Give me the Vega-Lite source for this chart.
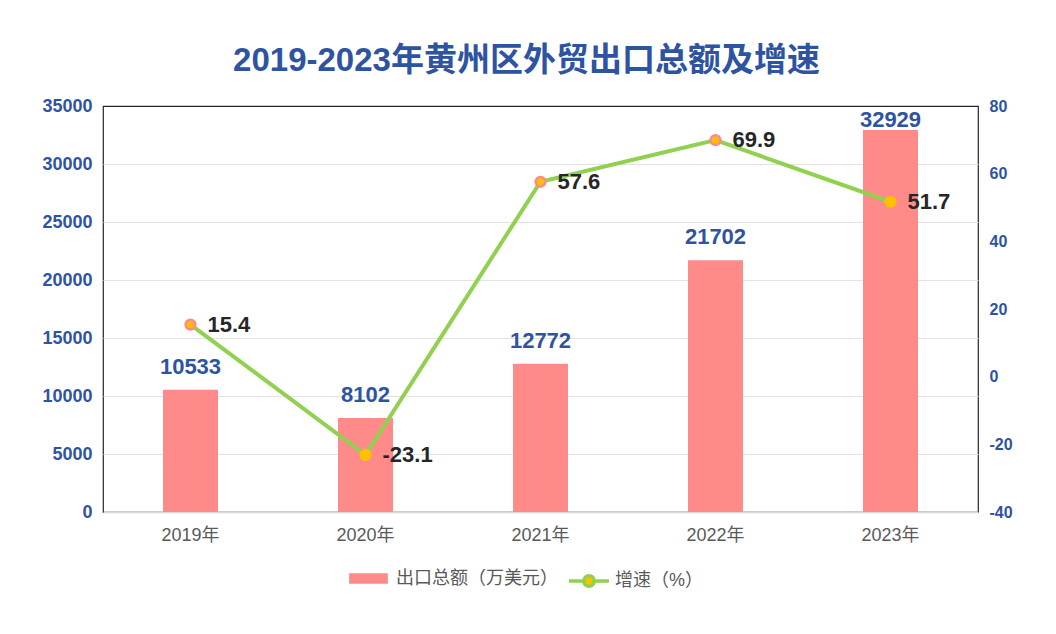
{
  "$schema": "https://vega.github.io/schema/vega-lite/v6.json",
  "autosize": "none",
  "width": 875,
  "height": 406,
  "padding": {"left": 103, "top": 106, "right": 78, "bottom": 122},
  "background": "white",
  "title": {
    "text": "2019-2023年黄州区外贸出口总额及增速",
    "fontSize": 33,
    "fontWeight": "bold",
    "color": "#2E54A1",
    "offset": 19,
    "dx": -14,
    "anchor": "middle"
  },
  "data": {
    "values": [
      {"year": "2019年", "amount": 10533, "growth": 15.4},
      {"year": "2020年", "amount": 8102, "growth": -23.1},
      {"year": "2021年", "amount": 12772, "growth": 57.6},
      {"year": "2022年", "amount": 21702, "growth": 69.9},
      {"year": "2023年", "amount": 32929, "growth": 51.7}
    ]
  },
  "encoding": {
    "x": {
      "field": "year",
      "type": "nominal",
      "sort": null,
      "title": null,
      "axis": {
        "labelAngle": 0,
        "labelColor": "#595959",
        "labelFontSize": 18,
        "labelPadding": 14,
        "ticks": false,
        "domainColor": "#d9d9d9",
        "domainWidth": 1.5
      }
    }
  },
  "layer": [
    {
      "layer": [
        {
          "mark": {"type": "bar", "size": 55},
          "encoding": {
            "y": {
              "field": "amount",
              "type": "quantitative",
              "title": null,
              "scale": {"domain": [0, 35000]},
              "axis": {
                "values": [0, 5000, 10000, 15000, 20000, 25000, 30000, 35000],
                "labelColor": "#2E54A1",
                "labelFontSize": 18,
                "labelFontWeight": "bold",
                "labelPadding": 11,
                "ticks": false,
                "domain": false,
                "grid": true,
                "gridColor": "#e3e3e3",
                "gridOpacity": {"condition": {"test": "datum.value == 35000 || datum.value == 0", "value": 0}, "value": 1},
                "format": "d"
              }
            },
            "fill": {
              "datum": "出口总额（万美元）",
              "type": "nominal",
              "scale": {"range": ["#FF8A8A"]},
              "legend": {
                "title": null,
                "orient": "none",
                "legendX": 246,
                "legendY": 453,
                "labelOffset": 8,
                "labelLimit": 400,
                "symbolType": "M-1,-0.27H1V0.27H-1Z",
                "symbolSize": 1500,
                "symbolStrokeWidth": 0
              }
            }
          }
        },
        {
          "transform": [{"filter": "datum.year != '2023年'"}],
          "mark": {"type": "text", "baseline": "bottom", "dy": -11, "fontSize": 22, "fontWeight": "bold", "color": "#2E54A1"},
          "encoding": {
            "y": {"field": "amount", "type": "quantitative"},
            "text": {"field": "amount", "type": "quantitative", "format": "d"}
          }
        },
        {
          "transform": [{"filter": "datum.year == '2023年'"}],
          "mark": {"type": "text", "baseline": "bottom", "dy": 2, "fontSize": 22, "fontWeight": "bold", "color": "#2E54A1"},
          "encoding": {
            "y": {"field": "amount", "type": "quantitative"},
            "text": {"field": "amount", "type": "quantitative", "format": "d"}
          }
        }
      ]
    },
    {
      "layer": [
        {
          "mark": {"type": "line", "strokeWidth": 4},
          "encoding": {
            "y": {
              "field": "growth",
              "type": "quantitative",
              "title": null,
              "scale": {"domain": [-40, 80]},
              "axis": {
                "orient": "right",
                "values": [-40, -20, 0, 20, 40, 60, 80],
                "labelExpr": "datum.value + ''",
                "labelColor": "#2E54A1",
                "labelFontSize": 16,
                "labelFontWeight": "bold",
                "labelPadding": 11,
                "ticks": false,
                "domain": false,
                "grid": false
              }
            },
            "stroke": {
              "datum": "增速（%）",
              "type": "nominal",
              "scale": {"range": ["#92D050"]},
              "legend": {
                "title": null,
                "orient": "none",
                "legendX": 464,
                "legendY": 453,
                "labelOffset": 4,
                "labelLimit": 300,
                "symbolType": "M-1,0L-0.26,0M0.26,0L1,0M-0.26,0A0.26,0.26,0,1,1,0.26,0A0.26,0.26,0,1,1,-0.26,0Z",
                "symbolSize": 1600,
                "symbolStrokeWidth": 3.5,
                "symbolFillColor": "#FFC000"
              }
            }
          }
        },
        {
          "mark": {"type": "point", "filled": true, "size": 95, "color": "#FFC000", "strokeWidth": 2.5, "opacity": 1},
          "encoding": {
            "y": {"field": "growth", "type": "quantitative"},
            "stroke": {
              "condition": {"test": "datum.year == '2020年' || datum.year == '2023年'", "value": "#FFC000"},
              "value": "#FF8A8A"
            }
          }
        },
        {
          "mark": {"type": "text", "align": "left", "baseline": "middle", "dx": 17, "fontSize": 22, "fontWeight": "bold", "color": "#262626"},
          "encoding": {
            "y": {"field": "growth", "type": "quantitative"},
            "text": {"field": "growth", "type": "nominal"}
          }
        }
      ]
    }
  ],
  "resolve": {"scale": {"y": "independent", "stroke": "independent"}},
  "config": {
    "font": "Liberation Sans, Noto Sans CJK SC",
    "view": {"stroke": "#262626", "strokeWidth": 1.2},
    "legend": {
      "labelFontSize": 18,
      "labelColor": "#595959"
    }
  }
}
